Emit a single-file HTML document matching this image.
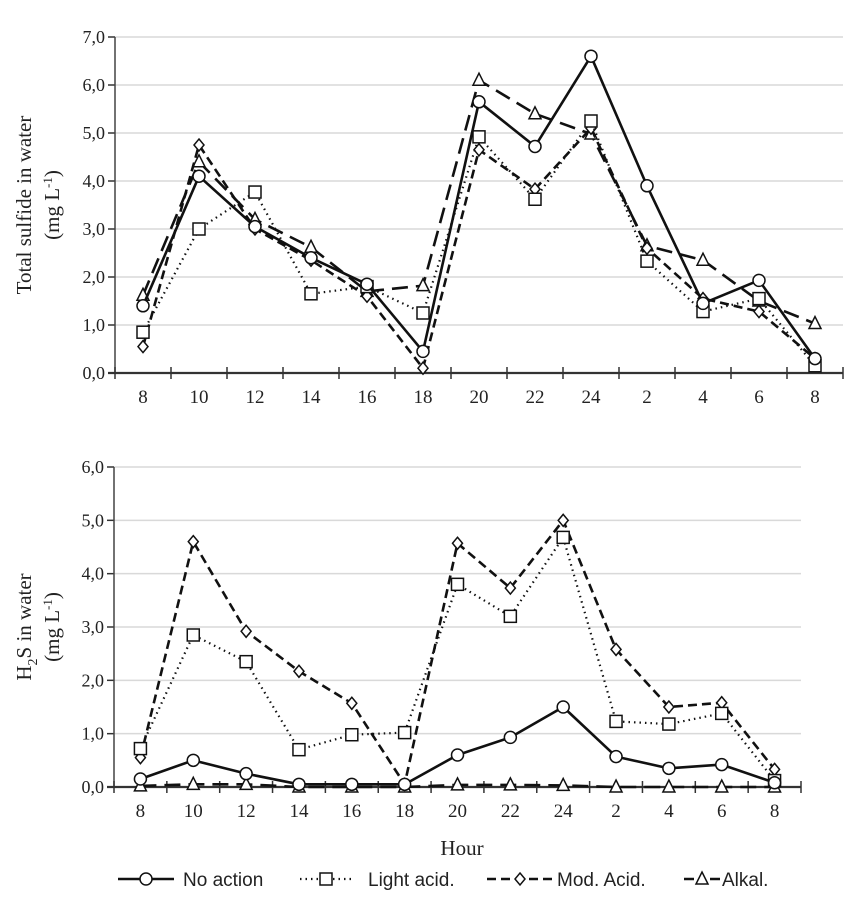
<!DOCTYPE html>
<html><head><meta charset="utf-8"><style>
html,body{margin:0;padding:0;background:#fff;}
svg{display:block;}
text{font-family:"Liberation Serif",serif;fill:#222;}
.leg{font-family:"Liberation Sans",sans-serif;}
</style></head><body>
<svg id="chart" width="862" height="900" viewBox="0 0 862 900" xmlns="http://www.w3.org/2000/svg">
<g id="top"></g>
<g id="bot"></g>
<text x="462" y="855" font-size="21" text-anchor="middle">Hour</text>
<g id="legend"></g>
</svg>
<script>
const categories = ["8","10","12","14","16","18","20","22","24","2","4","6","8"];
const topNoAction = [1.4,4.1,3.05,2.4,1.85,0.45,5.65,4.72,6.6,3.9,1.45,1.93,0.3];
const topLight = [0.85,3.0,3.77,1.65,1.8,1.25,4.92,3.62,5.25,2.33,1.28,1.55,0.15];
const topMod = [0.55,4.75,3.0,2.35,1.6,0.1,4.65,3.83,5.1,2.6,1.55,1.28,0.3];
const topAlk = [1.62,4.4,3.2,2.62,1.7,1.82,6.1,5.4,4.98,2.65,2.35,1.5,1.03];
const botNoAction = [0.15,0.5,0.25,0.05,0.05,0.05,0.6,0.93,1.5,0.57,0.35,0.42,0.08];
const botLight = [0.72,2.85,2.35,0.7,0.98,1.02,3.8,3.2,4.68,1.23,1.18,1.38,0.12];
const botMod = [0.55,4.6,2.92,2.17,1.57,0.05,4.57,3.73,5.0,2.58,1.5,1.58,0.33];
const botAlk = [0.02,0.05,0.05,0.0,0.0,0.0,0.04,0.04,0.03,0.0,0.0,0.0,0.0];
const topTicks = [0,1,2,3,4,5,6,7];
const botTicks = [0,1,2,3,4,5,6];

const NS="http://www.w3.org/2000/svg";
function mk(tag,attrs,parent){const e=document.createElementNS(NS,tag);for(const k in attrs)e.setAttribute(k,attrs[k]);parent.appendChild(e);return e;}
const styles={
 no:{dash:"",w:2.6,m:"circle"},
 light:{dash:"1.5 4",w:2.2,m:"square"},
 mod:{dash:"9 5",w:2.6,m:"diamond"},
 alk:{dash:"16 8",w:2.6,m:"triangle"}
};
function marker(g,type,x,y){
 let e;
 if(type==="circle"){e=mk("circle",{cx:x,cy:y,r:6,fill:"#fff",stroke:"#111","stroke-width":1.5},g);}
 else if(type==="square"){e=mk("rect",{x:x-6,y:y-6,width:12,height:12,fill:"#fff",stroke:"#111","stroke-width":1.5},g);}
 else if(type==="diamond"){e=mk("polygon",{points:`${x},${y-6} ${x+5},${y} ${x},${y+6} ${x-5},${y}`,fill:"#fff",stroke:"#111","stroke-width":1.5},g);}
 else {e=mk("polygon",{points:`${x},${y-7} ${x+6},${y+5} ${x-6},${y+5}`,fill:"#fff",stroke:"#111","stroke-width":1.5},g);}
 return e;
}
function drawChart(g,cfg){
 const {left,right,y0,yTop,ymax,ticks,series,title}=cfg;
 const step=(right-left)/categories.length;
 const xs=i=>left+step*(i+0.5);
 const ys=v=>y0-(y0-yTop)*v/ymax;
 ticks.forEach(t=>{
  if(t>0){const l=mk("line",{x1:left,x2:right,y1:ys(t),y2:ys(t),stroke:"#d9d9d9","stroke-width":1.5},g);
  
  }
  mk("line",{x1:left-7,x2:left,y1:ys(t),y2:ys(t),stroke:"#333","stroke-width":1.5},g);
  const lb=mk("text",{x:left-10,y:ys(t)+6,"font-size":18,"text-anchor":"end"},g);
  lb.textContent=t.toFixed(1).replace(".",",");
  
  
 });
 mk("line",{x1:left,x2:left,y1:yTop,y2:y0,stroke:"#444","stroke-width":1.5},g);
 mk("line",{x1:left-7,x2:right,y1:y0,y2:y0,stroke:"#333","stroke-width":2.2},g);
 for(let i=0;i<=categories.length;i++){
  mk("line",{x1:left+step*i,x2:left+step*i,y1:y0-6,y2:y0+6,stroke:"#333","stroke-width":1.5},g);
 }
 categories.forEach((c,i)=>{
  const t=mk("text",{x:xs(i),y:y0+30,"font-size":19,"text-anchor":"middle"},g);
  t.textContent=c;
  
  
 });
 series.forEach(s=>{
  const st=styles[s.key];
  const sg=mk("g",{},g);
  
  
  const pts=s.data.map((v,i)=>xs(i)+","+ys(v)).join(" ");
  mk("polyline",{points:pts,fill:"none",stroke:"#111","stroke-width":st.w,"stroke-dasharray":st.dash,"stroke-linejoin":"round"},sg);
  s.data.forEach((v,i)=>{
   const m=marker(sg,st.m,xs(i),ys(v));
   
   
  });
 });
 const cy=(yTop+y0)/2;
 const t1=mk("text",{x:0,y:0,"font-size":21,"text-anchor":"middle",transform:`translate(${cfg.tx1},${cy}) rotate(-90)`},g);
 t1.innerHTML=title;
 
 
 const t2=mk("text",{x:0,y:0,"font-size":21,"text-anchor":"middle",transform:`translate(${cfg.tx1+28},${cy}) rotate(-90)`},g);
 t2.innerHTML='(mg L<tspan dy="-7" font-size="13">-1</tspan><tspan dy="7">)</tspan>';
 
 
}
drawChart(document.getElementById("top"),{left:115,right:843,y0:373,yTop:37,ymax:7,ticks:topTicks,tx1:31,
 title:"Total sulfide in water",
 series:[{key:"alk",name:"series-alkal",data:topAlk},{key:"mod",name:"series-mod-acid",data:topMod},{key:"light",name:"series-light-acid",data:topLight},{key:"no",name:"series-no-action",data:topNoAction}]});
drawChart(document.getElementById("bot"),{left:114,right:801,y0:787,yTop:467,ymax:6,ticks:botTicks,tx1:31,
 title:'H<tspan dy="6" font-size="14">2</tspan><tspan dy="-6">S in water</tspan>',
 series:[{key:"alk",name:"series-alkal",data:botAlk},{key:"mod",name:"series-mod-acid",data:botMod},{key:"light",name:"series-light-acid",data:botLight},{key:"no",name:"series-no-action",data:botNoAction}]});

const lg=document.getElementById("legend");
const legItems=[{key:"no",label:"No action",x1:118,x2:174,tx:183},{key:"light",label:"Light acid.",x1:300,x2:352,tx:368},{key:"mod",label:"Mod. Acid.",x1:487,x2:553,tx:557},{key:"alk",label:"Alkal.",x1:684,x2:720,tx:722}];
legItems.forEach(it=>{
 const st=styles[it.key];
 const g=mk("g",{},lg);
 
 
 mk("line",{x1:it.x1,x2:it.x2,y1:879,y2:879,stroke:"#111","stroke-width":st.w,"stroke-dasharray":it.key==="alk"?"10 16":st.dash},g);
 marker(g,st.m,(it.x1+it.x2)/2,879);
 const t=mk("text",{x:it.tx,y:886,"font-size":19,"class":"leg"},g);
 t.textContent=it.label;
});
</script>
</body></html>
